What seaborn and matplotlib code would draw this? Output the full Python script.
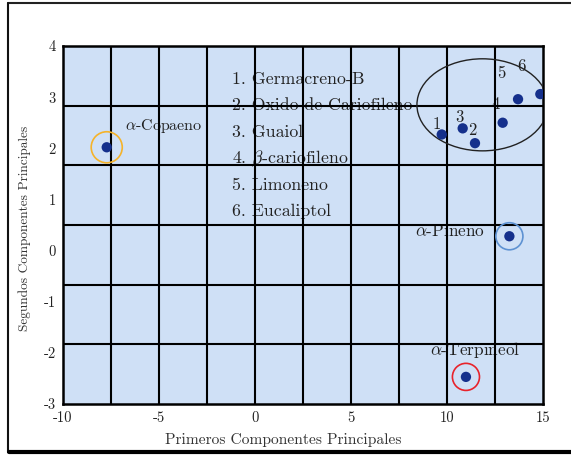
import matplotlib
matplotlib.use("Agg")
import matplotlib.pyplot as plt
from matplotlib.patches import Ellipse
from matplotlib.lines import Line2D
import numpy as np
import pandas as pd
import seaborn as sns

# Principal component scores of the compounds
compuestos = ["alpha-Copaeno", "Germacreno-B", "Oxido de Cariofileno", "Guaiol",
              "beta-cariofileno", "Limoneno", "Eucaliptol", "alpha-Pineno", "alpha-Terpineol"]
pc1 = [-7.70, 9.73, 11.46, 10.82, 12.90, 13.70, 14.86, 13.25, 10.99]
pc2 = [2.02, 2.27, 2.10, 2.39, 2.50, 2.96, 3.06, 0.28, -2.47]

# Numbered cluster members and their labels
numeros = ["1", "2", "3", "4", "5", "6"]
num_x = [9.49, 11.34, 10.63, 12.54, 12.85, 13.89]
num_y = [2.46, 2.36, 2.61, 2.85, 3.47, 3.60]

leyenda = ["1. Germacreno-B", "2. Oxido de Cariofileno", "3. Guaiol",
           r"4. $\beta$-cariofileno", "5. Limoneno", "6. Eucaliptol"]

# Highlighted compounds (ring colour)
resaltados = ["alpha-Copaeno", "alpha-Pineno", "alpha-Terpineol"]
colores_aro = ["#f5b32a", "#5e92d2", "#e8232b"]
tam_aro = [500, 380, 380]

xticks = [-10, -5, 0, 5, 10, 15]
yticks = [-3, -2, -1, 0, 1, 2, 3, 4]

df = pd.DataFrame({"compuesto": compuestos, "pc1": pc1, "pc2": pc2})

sns.set_style("white")
plt.rcParams["font.family"] = ["cmr10", "DejaVu Serif"]
plt.rcParams["mathtext.fontset"] = "cm"
plt.rcParams["axes.unicode_minus"] = False

fig = plt.figure(figsize=(5.71, 4.57), dpi=100)
ax = fig.add_axes([0.1095, 0.116, 0.8415, 0.7833])
ax.set_facecolor("#cfe0f6")

sns.scatterplot(data=df, x="pc1", y="pc2", ax=ax, color="#15308c", s=55,
                edgecolor="none", zorder=5, legend=False)

for nombre, c, s in zip(resaltados, colores_aro, tam_aro):
    fila = df[df["compuesto"] == nombre].iloc[0]
    ax.scatter([fila["pc1"]], [fila["pc2"]], s=s, facecolors="none",
               edgecolors=c, linewidths=1.2, zorder=4)

ax.add_patch(Ellipse((11.85, 2.85), 6.82, 1.80, fill=False, edgecolor="#222222",
                     linewidth=1.0, zorder=4))

ax.set_xlim(-10, 15)
ax.set_ylim(-3, 4)

# Labels on integer values, grid on an independent regular division
gx = np.linspace(-10, 15, 11)
gy = np.linspace(-3, 4, 7)
for v in gx[1:-1]:
    ax.axvline(v, color="black", linewidth=1.5, zorder=2.5)
for v in gy[1:-1]:
    ax.axhline(v, color="black", linewidth=1.5, zorder=2.5)

ax.set_xticks(xticks)
ax.set_xticklabels([str(v) for v in xticks])
ax.set_yticks(yticks)
ax.set_yticklabels([str(v) for v in yticks])
ax.set_xticks(gx, minor=True)
ax.set_yticks(gy, minor=True)
ax.tick_params(which="major", length=0, labelsize=10.5, pad=5, colors="#222222")
ax.tick_params(which="minor", direction="in", length=3, width=1.2, top=True,
               right=True, color="black")
ax.grid(False)
for sp in ax.spines.values():
    sp.set_color("black")
    sp.set_linewidth(1.8)

ax.set_xlabel("Primeros Componentes Principales", fontsize=11.2, color="#333333")
ax.xaxis.label.set_va("center")
ax.xaxis.set_label_coords(0.459, -0.10)
ax.set_ylabel("Segundos Componentes Principales", fontsize=9.6, color="#333333")
ax.yaxis.label.set_va("center")
ax.yaxis.set_label_coords(-0.078, 0.49)

txt = dict(color="#222222", zorder=2)
ax.text(-6.75, 2.44, r"$\alpha$-Copaeno", ha="left", va="center", fontsize=11.5, **txt)
ax.text(11.98, 0.38, r"$\alpha$-Pineno", ha="right", va="center", fontsize=12.4, **txt)
ax.text(9.12, -1.94, r"$\alpha$-Terpineol", ha="left", va="center", fontsize=12.4, **txt)
for n, x, y in zip(numeros, num_x, num_y):
    ax.text(x, y, n, ha="center", va="center", fontsize=12, **txt)

y0, dy = 3.355, 0.518
for i, linea in enumerate(leyenda):
    ax.text(-1.18, y0 - i * dy, linea, ha="left", va="center", fontsize=12.8, **txt)

# Outer frame
fig.add_artist(Line2D([8 / 571, 1], [1 - 3 / 457, 1 - 3 / 457], color="#222222",
                      linewidth=1.5, transform=fig.transFigure))
fig.add_artist(Line2D([8 / 571, 8 / 571], [1 - 3 / 457, 1 - 452 / 457], color="#111111",
                      linewidth=1.5, transform=fig.transFigure))
fig.add_artist(Line2D([9 / 571, 1], [1 - 452 / 457, 1 - 452 / 457], color="black",
                      linewidth=3, transform=fig.transFigure))

fig.savefig("out.png", dpi=100)
